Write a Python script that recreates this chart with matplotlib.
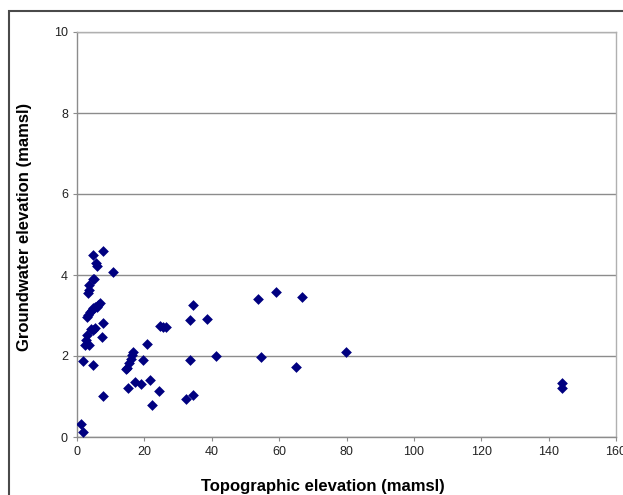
import matplotlib.pyplot as plt
from matplotlib.patches import Rectangle

plt.rcParams['font.family'] = ['Liberation Sans', 'DejaVu Sans']

# topographic elevation (x) and groundwater elevation (y), mamsl
topo = [4.7, 7.6, 5.6, 5.9, 10.8, 4.7, 5.1, 3.6, 3.7, 3.4,
        6.8, 6.3, 5.9, 5.3, 4.8, 4.4, 3.9, 3.4, 2.9,
        7.6, 5.3, 4.8, 4.1, 2.9, 2.7, 7.3, 3.7, 2.4,
        1.7, 4.7, 7.6, 1.1, 1.7,
        34.5, 33.5, 38.7, 24.6, 25.4, 26.4, 20.9, 16.5, 16.2, 15.9,
        15.5, 14.9, 14.5, 19.5, 33.5, 41.3, 17.2, 18.9, 21.7, 15.2,
        24.4, 22.2, 32.4, 34.3,
        53.8, 59.1, 66.7, 54.6, 64.9, 79.8,
        144.0, 144.0]
gw = [4.49, 4.60, 4.30, 4.22, 4.08, 3.90, 3.91, 3.75, 3.63, 3.56,
      3.30, 3.26, 3.22, 3.20, 3.18, 3.14, 3.09, 3.01, 2.97,
      2.81, 2.68, 2.64, 2.66, 2.52, 2.40, 2.46, 2.27, 2.27,
      1.88, 1.78, 1.02, 0.31, 0.13,
      3.26, 2.89, 2.91, 2.74, 2.72, 2.72, 2.30, 2.11, 2.02, 1.92,
      1.82, 1.70, 1.67, 1.90, 1.90, 2.00, 1.37, 1.31, 1.41, 1.20,
      1.14, 0.79, 0.93, 1.04,
      3.40, 3.58, 3.46, 1.98, 1.74, 2.09,
      1.33, 1.22]

W, H = 623, 495
fig = plt.figure(figsize=(W / 100, H / 100), dpi=100)
ax = fig.add_axes([77 / W, 1 - 437 / H, 539 / W, 405 / H])

# outer chart frame (cropped at right and bottom)
fig.patches.append(Rectangle((9 / W, -0.1), 1.2, 1 - 11 / H + 0.1,
                             transform=fig.transFigure, fill=False,
                             edgecolor='#4a4a4a', linewidth=1.5))

ax.scatter(topo, gw, marker='D', s=30, color='#000080', zorder=3,
           linewidths=0)

ax.set_xlim(0, 160)
ax.set_ylim(0, 10)
ax.set_xticks(range(0, 161, 20))
ax.set_yticks(range(0, 11, 2))
ax.yaxis.grid(True, color='#8c8c8c', linewidth=1.0)
ax.set_axisbelow(True)
for side in ['left', 'bottom', 'top', 'right']:
    ax.spines[side].set_color('#8c8c8c')
    ax.spines[side].set_linewidth(1.0)
ax.spines['right'].set_color('#b0b0b0')
ax.spines['top'].set_color('#b0b0b0')
ax.tick_params(axis='both', direction='out', length=3, color='#8c8c8c',
               labelsize=9, labelcolor='#222222')

fig.text(323 / W, 1 - 487 / H, 'Topographic elevation (mamsl)',
         fontsize=12, fontweight='bold', ha='center', va='center')
fig.text(25 / W, 1 - 227 / H, 'Groundwater elevation (mamsl)',
         fontsize=12, fontweight='bold', ha='center', va='center',
         rotation=90)

fig.savefig('out.png', dpi=100)
